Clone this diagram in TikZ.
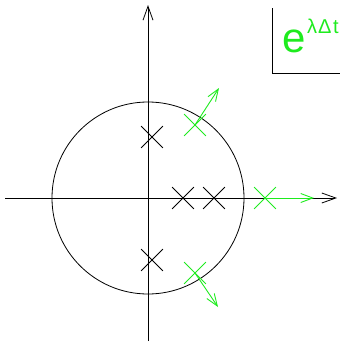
\documentclass[tikz,border=0pt]{standalone}
\usepackage{fontspec}
\setsansfont{Liberation Sans}
\usetikzlibrary{arrows.meta,shapes.misc}
\definecolor{poleg}{RGB}{30,235,30}
\begin{document}
\begin{tikzpicture}[x=1pt,y=-1pt,
  axis/.style={line width=0.8pt,-{Straight Barb[length=14pt,width=10pt,line width=0.8pt]}},
  pole/.style={draw,cross out,minimum size=21pt,inner sep=0pt,line width=0.8pt},
  newpole/.style={pole,poleg},
  moved/.style={poleg,line width=0.9pt,-{Straight Barb[length=12pt,width=9pt,line width=0.9pt]}},
  lab/.style={text=poleg,inner sep=0pt,anchor=base west}]
\useasboundingbox (0,0) rectangle (349,343);

% axes and unit circle
\coordinate (xl) at (5,198);
\coordinate (xr) at (337,198);
\coordinate (yb) at (148,341);
\coordinate (yt) at (148,5);
\draw[axis] (xl) -- (xr);
\draw[axis] (yb) -- (yt);
\draw[line width=0.8pt] (148,198) circle[radius=96pt];

% poles of the continuous system
\node[pole] (p1) at (152,137) {};
\node[pole] (p2) at (152,260) {};
\node[pole] (p3) at (183,198) {};
\node[pole] (p4) at (214,198) {};

% mapped poles
\node[newpole] (q1) at (195,125) {};
\node[newpole] (q2) at (265,198) {};
\node[newpole] (q3) at (195,273) {};
\coordinate (r1) at (219,88);
\coordinate (r2) at (314,198);
\coordinate (r3) at (218,307);
\draw[moved] (q1.center) -- (r1);
\draw[moved] (q2.center) -- (r2);
\draw[moved] (q3.center) -- (r3);

% label
\coordinate (b1) at (272,8);
\coordinate (b2) at (272,73);
\coordinate (b3) at (340,73);
\draw[line width=0.8pt] (b1) -- (b2) -- (b3);
\node[lab,font=\sffamily\fontsize{42}{42}\selectfont] (e) at (282,52) {e};
\node[lab,font=\sffamily\fontsize{20}{20}\selectfont] (ex) at (307,33) {λ\kern1ptΔ\kern1.5ptt};
\end{tikzpicture}
\end{document}
